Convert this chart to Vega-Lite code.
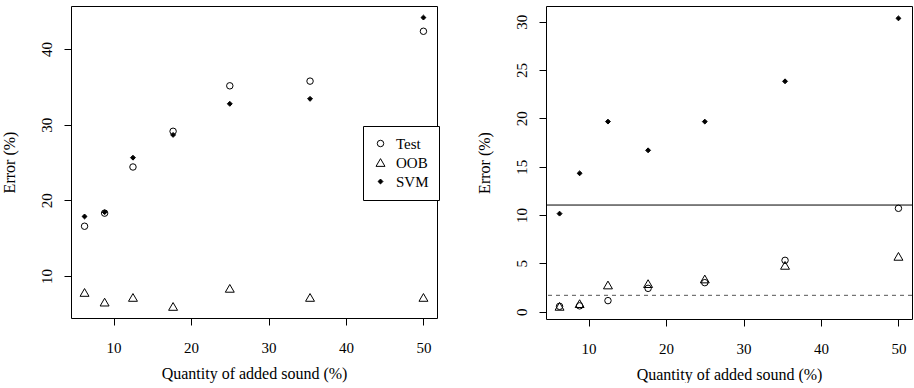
{
  "$schema": "https://vega.github.io/schema/vega-lite/v6.json",
  "padding": {"left": 0, "top": 5, "right": 0, "bottom": 0},
  "background": "white",
  "spacing": 35,
  "config": {
    "view": {"stroke": "black", "strokeWidth": 1},
    "font": "Liberation Serif",
    "axis": {
      "domain": false, "grid": false, "tickColor": "black", "tickSize": 7,
      "labelFont": "Liberation Serif", "labelFontSize": 15, "labelColor": "black",
      "titleFont": "Liberation Serif", "titleFontSize": 16, "titleFontWeight": "normal", "titleColor": "black"
    },
    "axisX": {"labelPadding": 15, "titlePadding": 10},
    "axisY": {"labelAngle": -90, "labelAlign": "center", "labelBaseline": "bottom", "labelPadding": 10, "titlePadding": 22},
    "legend": {
      "labelFont": "Liberation Serif", "labelFontSize": 15, "labelColor": "black",
      "strokeColor": "black", "fillColor": "white", "padding": 10, "rowPadding": 3, "labelOffset": 8,
      "symbolStrokeColor": "black", "symbolStrokeWidth": 1, "symbolSize": 50
    }
  },
  "datasets": {
    "left": [
      {"x": 6.25, "series": "Test", "err": 16.58},
      {"x": 8.84, "series": "Test", "err": 18.31},
      {"x": 12.5, "series": "Test", "err": 24.41},
      {"x": 17.68, "series": "Test", "err": 29.13},
      {"x": 25, "series": "Test", "err": 35.14},
      {"x": 35.36, "series": "Test", "err": 35.76},
      {"x": 50, "series": "Test", "err": 42.35},
      {"x": 6.25, "series": "OOB", "err": 7.83},
      {"x": 8.84, "series": "OOB", "err": 6.55},
      {"x": 12.5, "series": "OOB", "err": 7.17},
      {"x": 17.68, "series": "OOB", "err": 5.98},
      {"x": 25, "series": "OOB", "err": 8.37},
      {"x": 35.36, "series": "OOB", "err": 7.17},
      {"x": 50, "series": "OOB", "err": 7.17},
      {"x": 6.25, "series": "SVM", "err": 17.87},
      {"x": 8.84, "series": "SVM", "err": 18.44},
      {"x": 12.5, "series": "SVM", "err": 25.64},
      {"x": 17.68, "series": "SVM", "err": 28.65},
      {"x": 25, "series": "SVM", "err": 32.76},
      {"x": 35.36, "series": "SVM", "err": 33.42},
      {"x": 50, "series": "SVM", "err": 44.16}
    ],
    "right": [
      {"x": 6.25, "series": "Test", "err": 0.55},
      {"x": 8.84, "series": "Test", "err": 0.6},
      {"x": 12.5, "series": "Test", "err": 1.14},
      {"x": 17.68, "series": "Test", "err": 2.41},
      {"x": 25, "series": "Test", "err": 3.0},
      {"x": 35.36, "series": "Test", "err": 5.31},
      {"x": 50, "series": "Test", "err": 10.69},
      {"x": 6.25, "series": "OOB", "err": 0.55},
      {"x": 8.84, "series": "OOB", "err": 0.83},
      {"x": 12.5, "series": "OOB", "err": 2.76},
      {"x": 17.68, "series": "OOB", "err": 2.9},
      {"x": 25, "series": "OOB", "err": 3.38},
      {"x": 35.36, "series": "OOB", "err": 4.79},
      {"x": 50, "series": "OOB", "err": 5.72},
      {"x": 6.25, "series": "SVM", "err": 10.14},
      {"x": 8.84, "series": "SVM", "err": 14.31},
      {"x": 12.5, "series": "SVM", "err": 19.66},
      {"x": 17.68, "series": "SVM", "err": 16.69},
      {"x": 25, "series": "SVM", "err": 19.66},
      {"x": 35.36, "series": "SVM", "err": 23.83},
      {"x": 50, "series": "SVM", "err": 30.34}
    ]
  },
  "hconcat": [
    {
      "width": 366, "height": 312,
      "data": {"name": "left"},
      "encoding": {
        "x": {"field": "x", "type": "quantitative", "title": "Quantity of added sound (%)",
              "scale": {"domain": [4.5, 51.75], "nice": false, "zero": false},
              "axis": {"values": [10, 20, 30, 40, 50]}},
        "y": {"field": "err", "type": "quantitative", "title": "Error (%)",
              "scale": {"domain": [4.45, 45.69], "nice": false, "zero": false},
              "axis": {"values": [10, 20, 30, 40]}},
        "shape": {"field": "series", "type": "nominal",
                  "scale": {"domain": ["Test", "OOB", "SVM"], "range": ["circle", "triangle-up", "diamond"]},
                  "legend": {"title": null, "orient": "none", "legendX": 292, "legendY": 120,
                             "encoding": {"symbols": {
                               "size": {"value": {"expr": "datum.value === 'OOB' ? 80 : datum.value === 'SVM' ? 24 : 42"}},
                               "fill": {"value": {"expr": "datum.value === 'SVM' ? 'black' : 'transparent'"}},
                               "stroke": {"value": "black"}, "strokeWidth": {"value": 1}}}}}
      },
      "layer": [
        {"transform": [{"filter": "datum.series === 'Test'"}],
         "mark": {"type": "point", "stroke": "black", "strokeWidth": 1, "opacity": 1, "size": 42}},
        {"transform": [{"filter": "datum.series === 'OOB'"}],
         "mark": {"type": "point", "stroke": "black", "strokeWidth": 1, "opacity": 1, "size": 80}},
        {"transform": [{"filter": "datum.series === 'SVM'"}],
         "mark": {"type": "point", "filled": true, "fill": "black", "stroke": "black", "strokeWidth": 1, "opacity": 1, "size": 24}}
      ]
    },
    {
      "width": 366, "height": 313,
      "layer": [
        {
          "data": {"name": "right"},
          "encoding": {
            "x": {"field": "x", "type": "quantitative", "title": "Quantity of added sound (%)",
                  "scale": {"domain": [4.5, 51.75], "nice": false, "zero": false},
                  "axis": {"values": [10, 20, 30, 40, 50]}},
            "y": {"field": "err", "type": "quantitative", "title": "Error (%)",
                  "scale": {"domain": [-0.76, 31.62], "nice": false, "zero": false},
                  "axis": {"values": [0, 5, 10, 15, 20, 25, 30]}},
            "shape": {"field": "series", "type": "nominal",
                      "scale": {"domain": ["Test", "OOB", "SVM"], "range": ["circle", "triangle-up", "diamond"]}, "legend": null}
          },
          "layer": [
            {"transform": [{"filter": "datum.series === 'Test'"}],
             "mark": {"type": "point", "stroke": "black", "strokeWidth": 1, "opacity": 1, "size": 42}},
            {"transform": [{"filter": "datum.series === 'OOB'"}],
             "mark": {"type": "point", "stroke": "black", "strokeWidth": 1, "opacity": 1, "size": 80}},
            {"transform": [{"filter": "datum.series === 'SVM'"}],
             "mark": {"type": "point", "filled": true, "fill": "black", "stroke": "black", "strokeWidth": 1, "opacity": 1, "size": 24}}
          ]
        },
        {
          "data": {"values": [{}]},
          "mark": {"type": "rule", "color": "black", "strokeWidth": 1},
          "encoding": {"y": {"datum": 11.03}}
        },
        {
          "data": {"values": [{}]},
          "mark": {"type": "rule", "color": "#555555", "strokeWidth": 1, "strokeDash": [4, 4]},
          "encoding": {"y": {"datum": 1.69}}
        }
      ]
    }
  ],
  "resolve": {"scale": {"shape": "independent", "x": "independent", "y": "independent"}}
}
